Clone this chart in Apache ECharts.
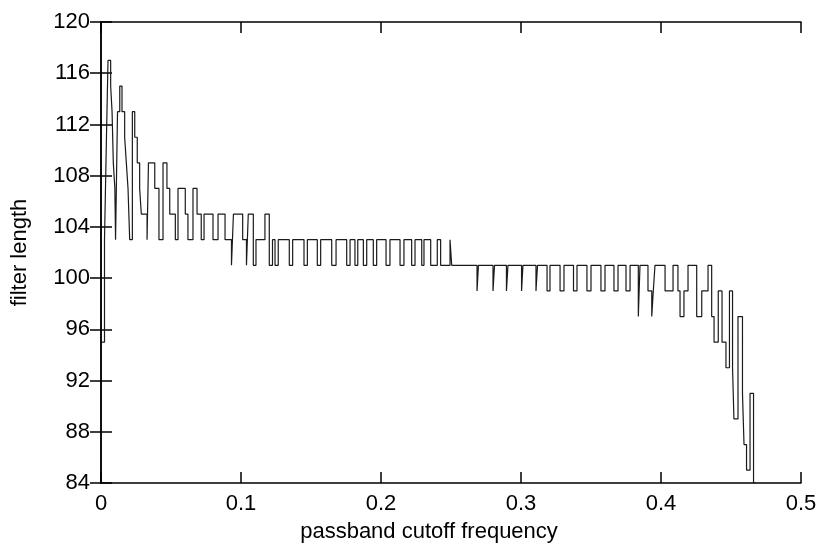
<!DOCTYPE html>
<html>
<head>
<meta charset="utf-8">
<script src="https://cdn.jsdelivr.net/npm/echarts@6/dist/echarts.min.js"></script>
<style>
html,body{margin:0;padding:0;background:#fff;}
#chart{width:825px;height:550px;}
</style>
</head>
<body>
<div id="chart"></div>
<script>
// step breakpoints (passband cutoff frequency) and filter length held from each breakpoint
const stepX = [
  0.0007, 0.0025, 0.0039, 0.0050, 0.0069, 0.0079, 0.0088, 0.0099, 0.0104,
  0.0118, 0.0134, 0.0150, 0.0169, 0.0181, 0.0193, 0.0205,
  0.0224, 0.0241, 0.0259, 0.0276, 0.0288, 0.0329,
  0.0339, 0.0384, 0.0414,
  0.0443, 0.0471, 0.0491, 0.0531,
  0.0550, 0.0602, 0.0621,
  0.0657, 0.0686, 0.0716, 0.0736, 0.0800,
  0.0836, 0.0886, 0.0932, 0.0946, 0.1012, 0.1039, 0.1052, 0.1088, 0.1107, 0.1171, 0.1202,
  0.1225, 0.1243, 0.1266, 0.1345, 0.1369, 0.1450, 0.1474, 0.1545, 0.1569, 0.1648,
  0.1679, 0.1755, 0.1779, 0.1814, 0.1834, 0.1874, 0.1898, 0.1945, 0.1969, 0.2036,
  0.2064, 0.2136, 0.2164, 0.2219, 0.2243, 0.2291, 0.2307, 0.2355, 0.2402, 0.2426,
  0.2493, 0.2505,
  0.2686, 0.2696, 0.2800, 0.2811, 0.2896, 0.2907, 0.3004, 0.3014, 0.3107, 0.3118,
  0.3186, 0.3207, 0.3279, 0.3307, 0.3375, 0.3400, 0.3471, 0.3500, 0.3571, 0.3600,
  0.3664, 0.3693, 0.3750, 0.3779, 0.3838, 0.3850, 0.3907, 0.3934, 0.3945, 0.3957,
  0.4029, 0.4086, 0.4121, 0.4136, 0.4164, 0.4193, 0.4255, 0.4291, 0.4336, 0.4362,
  0.4379, 0.4409, 0.4436, 0.4464, 0.4489, 0.4511, 0.4521, 0.4550, 0.4582, 0.4593,
  0.4611, 0.4636, 0.4661, 0.4679
];
const filterLength = [
  95, 103, 111, 117, 115, 113, 109, 107, 103,
  113, 115, 113, 111, 109, 107, 103,
  113, 111, 109, 107, 105, 103,
  109, 107, 103,
  109, 107, 105, 103,
  107, 105, 103,
  107, 105, 103, 105, 103,
  105, 103, 101, 105, 103, 101, 105, 101, 103, 105, 101,
  103, 101, 103, 101, 103, 101, 103, 101, 103, 101,
  103, 101, 103, 101, 103, 101, 103, 101, 103, 101,
  103, 101, 103, 101, 103, 101, 103, 101, 103, 101,
  103, 101,
  99, 101, 99, 101, 99, 101, 99, 101, 99, 101,
  99, 101, 99, 101, 99, 101, 99, 101, 99, 101,
  99, 101, 99, 101, 97, 101, 99, 97, 99, 101,
  99, 101, 99, 97, 99, 101, 97, 99, 101, 97,
  95, 99, 95, 93, 99, 93, 89, 97, 91, 87,
  85, 91, 84, 84
];
const xTicks = { min: 0, max: 0.5, interval: 0.1 };
const yTicks = { min: 84, max: 120, interval: 4 };

const data = stepX.map((x, i) => [x, filterLength[i]]);
const font = 'Liberation Sans, Arial, Helvetica, sans-serif';

const chart = echarts.init(document.getElementById('chart'), null, { renderer: 'canvas' });
const lineStyleAxis = { color: '#000', width: 1.5 };
chart.setOption({
  animation: false,
  backgroundColor: '#fff',
  grid: { left: 101, top: 22, width: 700, height: 461, containLabel: false },
  xAxis: [
    {
      type: 'value', position: 'bottom',
      min: xTicks.min, max: xTicks.max, interval: xTicks.interval,
      axisLine: { show: true, lineStyle: lineStyleAxis },
      axisTick: { show: true, inside: true, length: 11, lineStyle: { color: '#000', width: 1.5 } },
      axisLabel: { show: true, color: '#000', fontSize: 22, fontFamily: font, margin: 10 },
      splitLine: { show: false },
      name: 'passband cutoff frequency', nameLocation: 'middle', nameGap: 38,
      nameTextStyle: { color: '#000', fontSize: 22, fontFamily: font, padding: [0, 44, 0, 0] }
    },
    {
      type: 'value', position: 'top',
      min: xTicks.min, max: xTicks.max, interval: xTicks.interval,
      axisLine: { show: true, lineStyle: lineStyleAxis },
      axisTick: { show: true, inside: true, length: 11, lineStyle: { color: '#000', width: 1.5 } },
      axisLabel: { show: false }, splitLine: { show: false }
    }
  ],
  yAxis: [
    {
      type: 'value', position: 'left',
      min: yTicks.min, max: yTicks.max, interval: yTicks.interval,
      axisLine: { show: true, lineStyle: lineStyleAxis },
      axisTick: { show: true, inside: true, length: 11, lineStyle: { color: '#000', width: 1.5 } },
      axisLabel: { show: true, color: '#000', fontSize: 22, fontFamily: font, margin: 11 },
      splitLine: { show: false },
      name: 'filter length', nameLocation: 'middle', nameGap: 70, nameRotate: 90,
      nameTextStyle: { color: '#000', fontSize: 22, fontFamily: font }
    },
    {
      type: 'value', position: 'right',
      min: yTicks.min, max: yTicks.max, interval: yTicks.interval,
      axisLine: { show: true, lineStyle: lineStyleAxis },
      axisTick: { show: true, inside: true, length: 11, lineStyle: { color: '#000', width: 1.5 } },
      axisLabel: { show: false }, splitLine: { show: false }
    }
  ],
  series: [
    {
      type: 'line',
      xAxisIndex: 0, yAxisIndex: 0,
      step: 'end',
      data: data,
      showSymbol: false,
      symbol: 'none',
      clip: true,
      lineStyle: { color: '#1a1a1a', width: 1.2 }
    }
  ]
});
</script>
</body>
</html>
